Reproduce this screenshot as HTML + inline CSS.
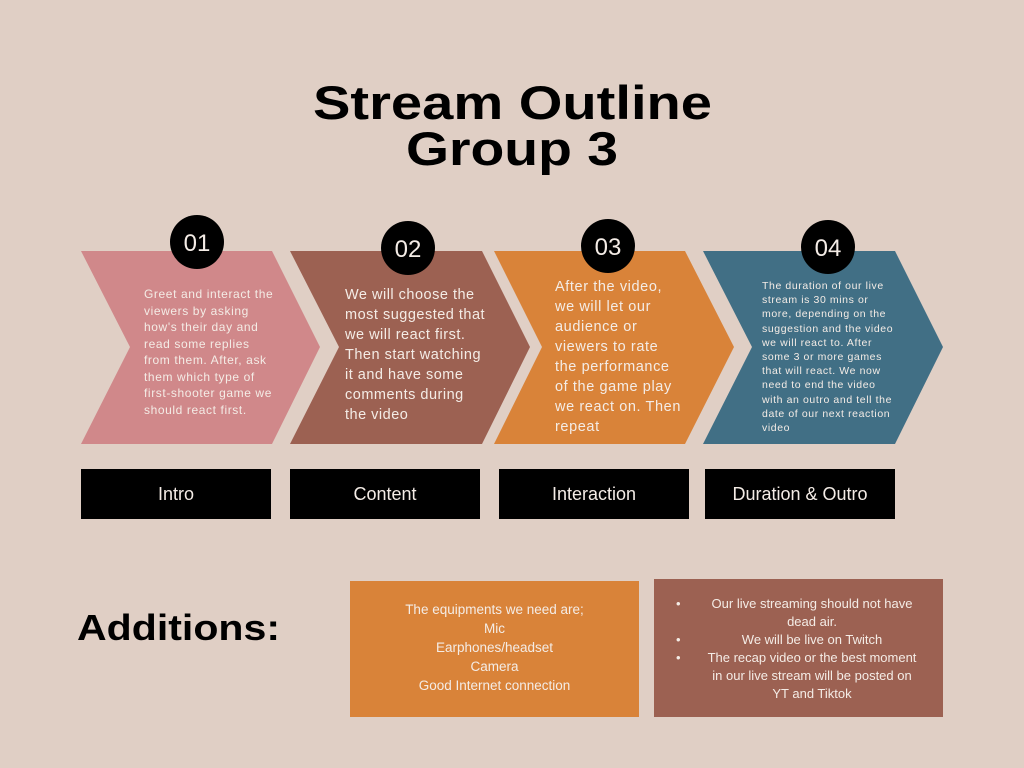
<!DOCTYPE html>
<html><head><meta charset="utf-8"><style>
html,body{margin:0;padding:0;background:#e0cfc5;}
body{width:1024px;height:768px;overflow:hidden;position:relative;font-family:"Liberation Sans",sans-serif;}
svg{position:absolute;left:0;top:0;}
.t{position:absolute;color:#f4ece6;white-space:nowrap;}
</style></head><body>
<svg width="1024" height="768">
<rect width="1024" height="768" fill="#e0cfc5"/>
<text x="313" y="119" textLength="399" lengthAdjust="spacingAndGlyphs" font-family="Liberation Sans" font-weight="bold" font-size="47" fill="#000">Stream Outline</text>
<text x="406" y="165" textLength="212" lengthAdjust="spacingAndGlyphs" font-family="Liberation Sans" font-weight="bold" font-size="47" fill="#000">Group 3</text>
<polygon points="81,251 272,251 320,347 272,444 81,444 130,347" fill="#d0888a"/>
<polygon points="290,251 482,251 530,347 482,444 290,444 339,347" fill="#9c6152"/>
<polygon points="494,251 685,251 734,347 685,444 494,444 542,347" fill="#d98339"/>
<polygon points="703,251 895,251 943,347 895,444 703,444 752,347" fill="#416f85"/>
<circle cx="197" cy="242" r="27" fill="#000"/>
<circle cx="408" cy="248" r="27" fill="#000"/>
<circle cx="608" cy="246" r="27" fill="#000"/>
<circle cx="828" cy="247" r="27" fill="#000"/>
<g font-family="Liberation Sans" font-size="24" fill="#f4ece6" text-anchor="middle">
<text x="197" y="251">01</text><text x="408" y="257">02</text><text x="608" y="255">03</text><text x="828" y="256">04</text>
</g>
<rect x="81" y="469" width="190" height="50" fill="#000"/>
<rect x="290" y="469" width="190" height="50" fill="#000"/>
<rect x="499" y="469" width="190" height="50" fill="#000"/>
<rect x="705" y="469" width="190" height="50" fill="#000"/>
<g font-family="Liberation Sans" font-size="18" fill="#f4ece6" text-anchor="middle">
<text x="176" y="500">Intro</text><text x="385" y="500">Content</text><text x="594" y="500">Interaction</text><text x="800" y="500">Duration &amp; Outro</text>
</g>
<text x="77" y="640" textLength="203" lengthAdjust="spacingAndGlyphs" font-family="Liberation Sans" font-weight="bold" font-size="36" fill="#000">Additions:</text>
<rect x="350" y="581" width="289" height="136" fill="#d98339"/>
<rect x="654" y="579" width="289" height="138" fill="#9c6152"/>
</svg>
<div class="t" style="left:144px;top:286px;font-size:12px;line-height:16.5px;letter-spacing:0.6px;">Greet and interact the<br>viewers by asking<br>how's their day and<br>read some replies<br>from them. After, ask<br>them which type of<br>first-shooter game we<br>should react first.</div>
<div class="t" style="left:345px;top:285px;font-size:14.5px;line-height:20px;letter-spacing:0.5px;">We will choose the<br>most suggested that<br>we will react first.<br>Then start watching<br>it and have some<br>comments during<br>the video</div>
<div class="t" style="left:555px;top:277px;font-size:14.5px;line-height:20px;letter-spacing:0.6px;">After the video,<br>we will let our<br>audience or<br>viewers to rate<br>the performance<br>of the game play<br>we react on. Then<br>repeat</div>
<div class="t" style="left:762px;top:279px;font-size:10.5px;line-height:14.2px;letter-spacing:0.6px;">The duration of our live<br>stream is 30 mins or<br>more, depending on the<br>suggestion and the video<br>we will react to. After<br>some 3 or more games<br>that will react. We now<br>need to end the video<br>with an outro and tell the<br>date of our next reaction<br>video</div>
<div class="t" style="left:350px;top:600px;width:289px;text-align:center;font-size:13.5px;line-height:19px;">The equipments we need are;<br>Mic<br>Earphones/headset<br>Camera<br>Good Internet connection</div>
<div class="t" style="left:672px;top:595px;width:262px;text-align:center;font-size:13px;line-height:18px;">
<span style="position:absolute;left:4px;top:0">•</span><span style="position:absolute;left:4px;top:36px">•</span><span style="position:absolute;left:4px;top:54px">•</span>
<div style="padding-left:18px">Our live streaming should not have<br>dead air.</div>
<div style="padding-left:18px">We will be live on Twitch</div>
<div style="padding-left:18px">The recap video or the best moment<br>in our live stream will be posted on<br>YT and Tiktok</div>
</div>
</body></html>
